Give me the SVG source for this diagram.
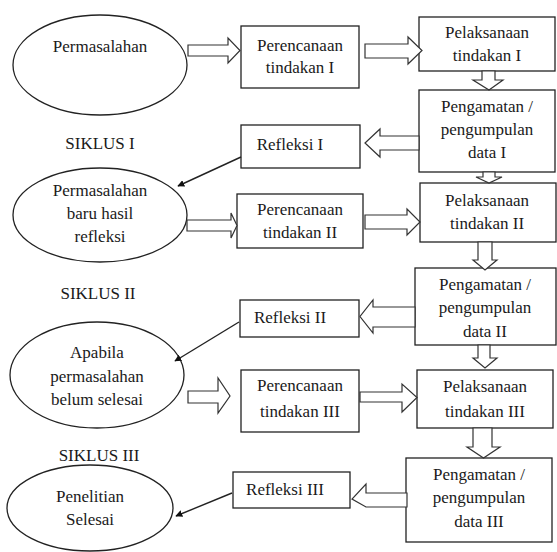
<svg xmlns="http://www.w3.org/2000/svg" width="557" height="552" viewBox="0 0 557 552">
<style>
.n{fill:#fff;stroke:#222;stroke-width:1.3}
.a{fill:#fff;stroke:#333;stroke-width:1.2;stroke-linejoin:miter}
.l{stroke:#222;stroke-width:1.4;fill:none}
.t text{font-size:17px;fill:#1a1a1a;text-anchor:middle}
</style>
<defs>
<marker id="ah" viewBox="0 0 10 10" refX="9" refY="5" markerWidth="7" markerHeight="7" orient="auto" markerUnits="userSpaceOnUse">
<path d="M0,0 L10,5 L0,10 z" fill="#111"/>
</marker>
</defs>
<rect width="557" height="552" fill="#fff"/>

<g class="t" font-family="'Liberation Serif', 'DejaVu Serif', 'Times New Roman', serif">
<g id="permasalahan">
<ellipse class="n" cx="100" cy="65" rx="87" ry="50"/>
<text x="100" y="52">Permasalahan</text>
</g>
<g id="perencanaan1">
<rect class="n" x="241" y="26" width="118" height="62"/>
<text x="300" y="51">Perencanaan</text>
<text x="300" y="73">tindakan  I</text>
</g>
<g id="pelaksanaan1">
<rect class="n" x="419" y="17" width="136" height="54"/>
<text x="487" y="38">Pelaksanaan</text>
<text x="487" y="61">tindakan  I</text>
</g>
<g id="pengamatan1">
<rect class="n" x="419" y="90" width="136" height="82"/>
<text x="487" y="112">Pengamatan /</text>
<text x="487" y="135">pengumpulan</text>
<text x="487" y="158">data  I</text>
</g>
<g id="refleksi1">
<rect class="n" x="241" y="125" width="119" height="43"/>
<text x="290" y="150">Refleksi  I</text>
</g>
<g id="siklus1">
<text x="100" y="149">SIKLUS  I</text>
</g>
<g id="permasalahan-baru">
<ellipse class="n" cx="100" cy="215" rx="87" ry="47"/>
<text x="100" y="196">Permasalahan</text>
<text x="100" y="219">baru hasil</text>
<text x="100" y="242">refleksi</text>
</g>
<g id="perencanaan2">
<rect class="n" x="237" y="194" width="126" height="54"/>
<text x="300" y="215">Perencanaan</text>
<text x="300" y="238">tindakan  II</text>
</g>
<g id="pelaksanaan2">
<rect class="n" x="420" y="183" width="136" height="59"/>
<text x="487" y="206">Pelaksanaan</text>
<text x="487" y="229">tindakan  II</text>
</g>
<g id="pengamatan2">
<rect class="n" x="415" y="268" width="141" height="77"/>
<text x="485" y="290">Pengamatan /</text>
<text x="485" y="313">pengumpulan</text>
<text x="485" y="337">data  II</text>
</g>
<g id="refleksi2">
<rect class="n" x="240" y="300" width="119" height="37"/>
<text x="290" y="323">Refleksi  II</text>
</g>
<g id="siklus2">
<text x="98" y="299">SIKLUS II</text>
</g>
<g id="apabila">
<ellipse class="n" cx="97" cy="375" rx="87" ry="53"/>
<text x="97" y="358">Apabila</text>
<text x="97" y="382">permasalahan</text>
<text x="97" y="405">belum selesai</text>
</g>
<g id="perencanaan3">
<rect class="n" x="241" y="370" width="118" height="62"/>
<text x="300" y="391">Perencanaan</text>
<text x="300" y="417">tindakan  III</text>
</g>
<g id="pelaksanaan3">
<rect class="n" x="417" y="370" width="136" height="58"/>
<text x="485" y="392">Pelaksanaan</text>
<text x="485" y="417">tindakan  III</text>
</g>
<g id="pengamatan3">
<rect class="n" x="406" y="458" width="146" height="84"/>
<text x="479" y="480">Pengamatan /</text>
<text x="479" y="503">pengumpulan</text>
<text x="479" y="527">data  III</text>
</g>
<g id="refleksi3">
<rect class="n" x="233" y="472" width="117" height="36"/>
<text x="285" y="495">Refleksi  III</text>
</g>
<g id="siklus3">
<text x="99" y="461">SIKLUS III</text>
</g>
<g id="penelitian-selesai">
<ellipse class="n" cx="90" cy="508" rx="83" ry="43"/>
<text x="90" y="502">Penelitian</text>
<text x="90" y="525">Selesai</text>
</g>
</g>

<g id="connectors">
<polygon class="a" points="188,45 228,45 228,38 240,50.5 228,63 228,56 188,56"/>
<polygon class="a" points="365,44 408,44 408,37 422,50.5 408,64 408,58 365,58"/>
<polygon class="a" points="482,71 495,71 495,80 503,80 489,90 473,80 482,80"/>
<polygon class="a" points="419,136 380,136 380,129 365,143 380,157 380,150 419,150"/>
<polygon class="a" points="483,172 495,172 495,177 502,177 489,183 476,177 483,177"/>
<polygon class="a" points="187,220 231,220 231,213 237,225.5 231,238 231,231 187,231"/>
<polygon class="a" points="365,215 407,215 407,209 420,222 407,235 407,229 365,229"/>
<polygon class="a" points="478,242 492,242 492,260 497,260 485,270 473,260 478,260"/>
<polygon class="a" points="415,307 373,307 373,300 360,316.5 373,333 373,327 415,327"/>
<polygon class="a" points="478,345 490,345 490,358 497,358 485,368 473,358 478,358"/>
<polygon class="a" points="188,391 218,391 218,378 230,396 218,413 218,403 188,403"/>
<polygon class="a" points="360,392 402,392 402,384 417,397.5 402,412 402,402 360,402"/>
<polygon class="a" points="473,428 492,428 492,447 500,447 483.5,458 467,447 473,447"/>
<polygon class="a" points="407,493 366,493 366,484 352,499 366,507 407,507"/>
<line class="l" x1="241" y1="157" x2="178" y2="186" marker-end="url(#ah)"/>
<line class="l" x1="239" y1="322" x2="175" y2="361" marker-end="url(#ah)"/>
<line class="l" x1="232" y1="493" x2="176" y2="516" marker-end="url(#ah)"/>
</g>
</svg>
